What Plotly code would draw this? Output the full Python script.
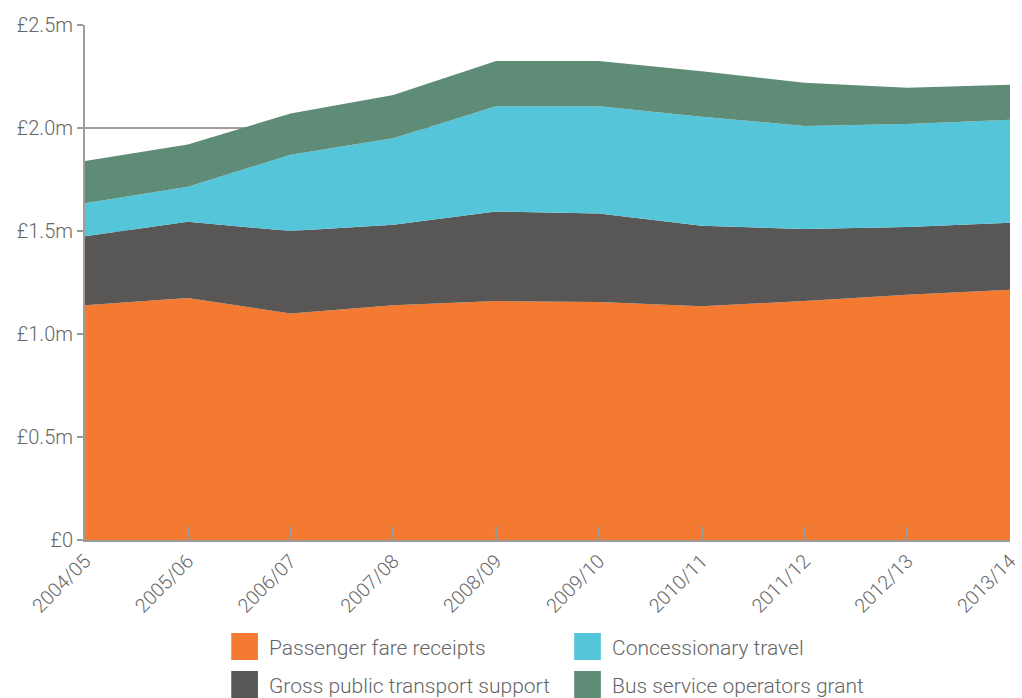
import plotly.graph_objects as go

years = ["2004/05", "2005/06", "2006/07", "2007/08", "2008/09",
         "2009/10", "2010/11", "2011/12", "2012/13", "2013/14"]
passenger = [1.14, 1.175, 1.10, 1.14, 1.16, 1.155, 1.135, 1.16, 1.19, 1.215]
gross = [0.335, 0.37, 0.40, 0.39, 0.435, 0.43, 0.39, 0.35, 0.33, 0.325]
concessionary = [0.16, 0.17, 0.37, 0.42, 0.51, 0.52, 0.53, 0.50, 0.50, 0.50]
bsog = [0.205, 0.205, 0.20, 0.21, 0.22, 0.22, 0.22, 0.21, 0.175, 0.17]

y_ticks = [0, 0.5, 1.0, 1.5, 2.0, 2.5]
y_labels = ["£0", "£0.5m", "£1.0m", "£1.5m", "£2.0m", "£2.5m"]

names = ["Passenger fare receipts", "Gross public transport support",
         "Concessionary travel", "Bus service operators grant"]
values = [passenger, gross, concessionary, bsog]
colors = ["#F37A30", "#595756", "#55C5DA", "#5E8C76"]
# legend grid (column, row) for each series
legend_cell = [(0, 0), (0, 1), (1, 0), (1, 1)]

FONT = "Roboto"
TXT = "#666666"
W, H = 1022, 698
ML, MR, MT, MB = 85, 1, 25, 158
PW, PH = W - ML - MR, H - MT - MB


def px_x(px):
    return (px - ML) / PW


def px_y(py):
    return (H - MB - py) / PH


fig = go.Figure()
xs = list(range(len(years)))
for name, vals, color in zip(names, values, colors):
    fig.add_trace(go.Scatter(
        x=xs, y=vals, name=name, stackgroup="one", mode="none",
        fillcolor=color, line=dict(width=0), showlegend=False,
        hoverinfo="name+y"))

# manual legend: square swatches + labels in two columns
col_x = [233, 580]
row_y = [633, 671]
SW = 27
shapes, annotations = [], []
for name, color, (c, r) in zip(names, colors, legend_cell):
    x0, y0 = col_x[c], row_y[r]
    shapes.append(dict(
        type="rect", xref="paper", yref="paper",
        x0=px_x(x0), x1=px_x(x0 + SW), y0=px_y(y0), y1=px_y(y0 + SW),
        fillcolor=color, line=dict(width=0), layer="above"))
    annotations.append(dict(
        xref="paper", yref="paper", x=px_x(x0 + SW + 9), y=px_y(y0 + SW / 2 + 1),
        xanchor="left", yanchor="middle", showarrow=False, text=name,
        font=dict(size=21, color=TXT, family=FONT, weight=300)))

fig.update_layout(
    width=W, height=H,
    margin=dict(l=ML, r=MR, t=MT, b=MB),
    paper_bgcolor="white", plot_bgcolor="white",
    font=dict(family=FONT, color=TXT, size=18, weight=300),
    showlegend=False,
    shapes=shapes, annotations=annotations,
    xaxis=dict(
        range=[0, len(years) - 1], tickvals=xs, ticktext=years,
        tickangle=-45, ticks="inside", ticklen=13, tickcolor="#9a9a9a",
        tickwidth=1.5, showgrid=False, showline=True, linecolor="#9a9a9a",
        linewidth=2, zeroline=False, ticklabeloverflow="allow",
        tickfont=dict(size=19.5, color=TXT, family=FONT, weight=300),
    ),
    yaxis=dict(
        range=[0, 2.5], tickvals=y_ticks, ticktext=y_labels,
        ticks="outside", ticklen=6, tickcolor="#9a9a9a", tickwidth=1.5,
        showgrid=True, gridcolor="#a59c95", gridwidth=1.5,
        showline=True, linecolor="#a59c95", linewidth=2, zeroline=False,
        tickfont=dict(size=20, color=TXT, family=FONT, weight=300),
        ticklabelstandoff=0,
    ),
)

fig.write_html("out.html")
